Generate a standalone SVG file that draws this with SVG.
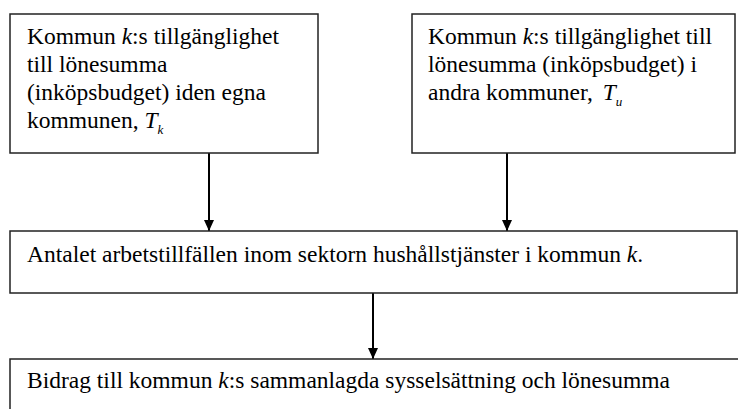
<svg xmlns="http://www.w3.org/2000/svg" width="738" height="409" viewBox="0 0 738 409">
<defs>
<marker id="ah" viewBox="0 0 11 10" markerWidth="11" markerHeight="10" refX="11" refY="5" orient="auto" markerUnits="userSpaceOnUse">
<path d="M0,0 L11,5 L0,10 z" fill="#000"/>
</marker>
<style>
.box{fill:#fff;stroke:#222;stroke-width:1.5}
.t{font-size:23.5px;fill:#000}
.i{font-style:italic}
.sub{font-size:13px;font-style:italic}
.c{stroke:#000;stroke-width:2;fill:none;marker-end:url(#ah)}
</style>
</defs>
<rect width="738" height="409" fill="#fff"/>
<g id="connectors">
<line class="c" x1="209" y1="153" x2="209" y2="231"/>
<line class="c" x1="507" y1="153" x2="507" y2="231"/>
<line class="c" x1="373" y1="293" x2="373" y2="359"/>
</g>
<g font-family="Liberation Serif, serif">
<g id="node-tk">
<rect class="box" x="10" y="14" width="308" height="139"/>
<text class="t" x="27" y="44">Kommun <tspan class="i">k</tspan>:s tillgänglighet</text>
<text class="t" x="27" y="72">till lönesumma</text>
<text class="t" x="27" y="100">(inköpsbudget) iden egna</text>
<text class="t" x="27" y="128">kommunen, <tspan class="i">T</tspan><tspan class="sub" dy="6">k</tspan></text>
</g>
<g id="node-tu">
<rect class="box" x="412" y="14" width="323" height="139"/>
<text class="t" x="428" y="44">Kommun <tspan class="i">k</tspan>:s tillgänglighet till</text>
<text class="t" x="428" y="72">lönesumma (inköpsbudget) i</text>
<text class="t" x="428" y="100">andra kommuner, <tspan class="i" dx="4">T</tspan><tspan class="sub" dy="6">u</tspan></text>
</g>
<g id="node-antal">
<rect class="box" x="10" y="231" width="727" height="62"/>
<text class="t" x="27" y="262">Antalet arbetstillfällen inom sektorn hushållstjänster i kommun <tspan class="i">k</tspan>.</text>
</g>
<g id="node-bidrag">
<rect class="box" x="10" y="359" width="740" height="80"/>
<text class="t" x="27" y="388">Bidrag till kommun <tspan class="i">k</tspan>:s sammanlagda sysselsättning och lönesumma</text>
</g>
</g>
</svg>
